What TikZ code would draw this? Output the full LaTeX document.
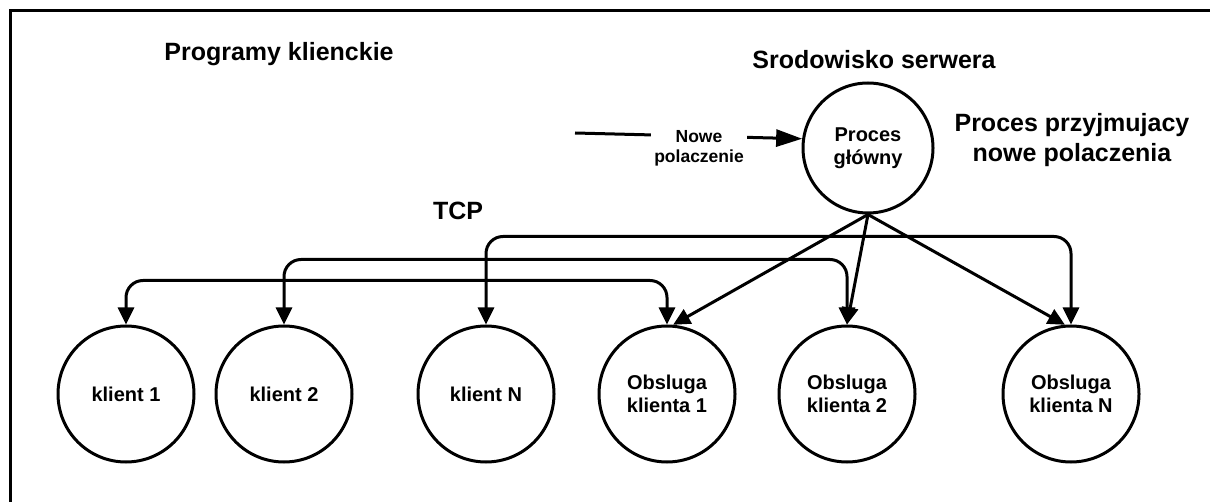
\documentclass[tikz,border=0pt]{standalone}
\usepackage{fontspec}
\setmainfont{Liberation Sans}
\usetikzlibrary{arrows.meta}

\tikzset{
  proc/.style={circle, draw, minimum size=136pt, inner sep=0pt, align=center, font=\fontsize{20}{23}\selectfont\bfseries},
  title/.style={align=center, font=\fontsize{25}{30}\selectfont\bfseries},
  note/.style={align=center, fill=white, inner xsep=3pt, font=\fontsize{17.5}{20}\selectfont\bfseries},
  link/.style={-{Triangle[length=17pt,width=16pt]}},
  tcp/.style={{Triangle[length=17pt,width=16pt]}-{Triangle[length=17pt,width=16pt]}, rounded corners=17pt}
}

\begin{document}
\begin{tikzpicture}[x=1pt, y=-1pt, line width=3pt]
\useasboundingbox (0,0) rectangle (1210,502);
\draw (1210,11) -- (10,11) -- (10,502);
\node[title] (clients) at (279,54) {Programy klienckie};
\node[title] (server) at (874,60) {Srodowisko serwera};
\node[title] (accept) at (1072,140) {Proces przyjmujacy\\nowe polaczenia};
\node[title] (tcp) at (458,211) {TCP};
\node[proc, minimum size=130pt] (main) at (868,148) {Proces\\główny};
\node[proc] (k1) at (126,394) {klient 1};
\node[proc] (k2) at (284,394) {klient 2};
\node[proc] (kN) at (486,394) {klient N};
\node[proc] (o1) at (667,394) {Obsluga\\klienta 1};
\node[proc] (o2) at (847,394) {Obsluga\\klienta 2};
\node[proc] (oN) at (1071,394) {Obsluga\\klienta N};
\coordinate (in) at (575,133);
\draw[-{Triangle[length=26pt,width=17pt]}] (in) -- (main.172);
\node[note] (new) at (699,148) {Nowe\\polaczenie};
\draw[link] (main.south) -- (o1.85);
\draw[link] (main.south) -- (o2.north);
\draw[link] (main.south) -- (oN.95);
\draw[tcp] (kN.north) -- ++(0,-88) -| (oN.north);
\draw[tcp] (k2.north) -- ++(0,-65) -| (o2.north);
\draw[tcp] (k1.north) -- ++(0,-44) -| (o1.north);
\end{tikzpicture}
\end{document}
